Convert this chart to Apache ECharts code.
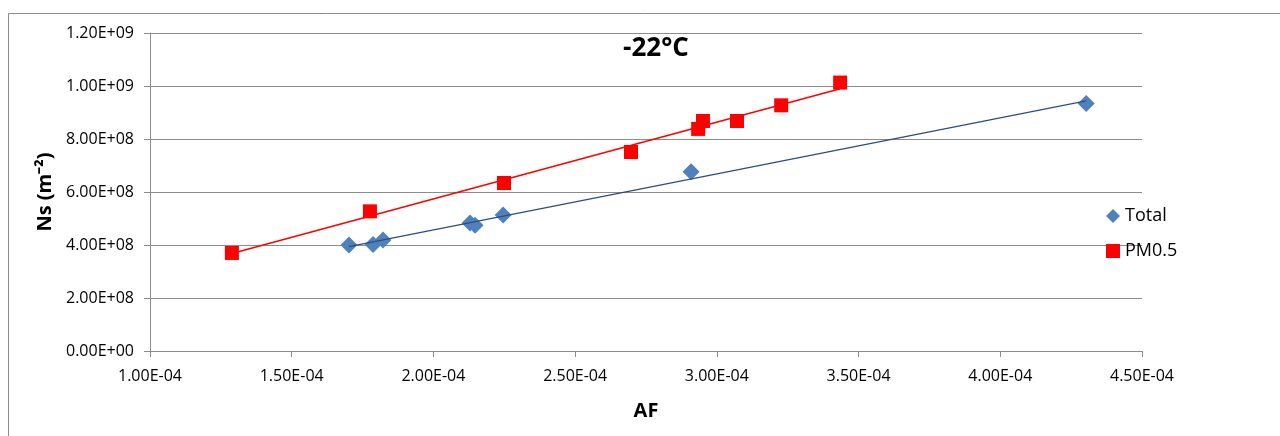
<!DOCTYPE html>
<html>
<head>
<meta charset="utf-8">
<script src="https://cdn.jsdelivr.net/npm/echarts@6/dist/echarts.min.js"></script>
<style>
  html, body { margin: 0; padding: 0; background: #fff; }
  #main { width: 1280px; height: 436px; }
</style>
</head>
<body>
<div id="main"></div>
<script>
// values
var totalAF = [1.702e-4, 1.787e-4, 1.822e-4, 2.129e-4, 2.147e-4, 2.246e-4, 2.909e-4, 4.303e-4];
var totalNs = [4.00e8, 4.02e8, 4.19e8, 4.83e8, 4.75e8, 5.13e8, 6.76e8, 9.34e8];
var pmAF = [1.289e-4, 1.776e-4, 2.249e-4, 2.697e-4, 2.934e-4, 2.951e-4, 3.071e-4, 3.227e-4, 3.435e-4];
var pmNs = [3.70e8, 5.27e8, 6.34e8, 7.51e8, 8.38e8, 8.68e8, 8.68e8, 9.27e8, 1.013e9];
var seriesNames = ['Total', 'PM0.5'];
var chartTitle = '-22°C';

function pairs(xs, ys) {
  return xs.map(function (x, i) { return [x, ys[i]]; });
}

// linear trendline (least squares) across the data range
function trend(xs, ys) {
  var n = xs.length, sx = 0, sy = 0, sxx = 0, sxy = 0;
  for (var i = 0; i < n; i++) {
    sx += xs[i]; sy += ys[i]; sxx += xs[i] * xs[i]; sxy += xs[i] * ys[i];
  }
  var b = (n * sxy - sx * sy) / (n * sxx - sx * sx);
  var a = (sy - b * sx) / n;
  var lo = Math.min.apply(null, xs), hi = Math.max.apply(null, xs);
  return [[lo, a + b * lo], [hi, a + b * hi]];
}

function sci(v) {
  var parts = Number(v).toExponential(2).split('e');
  var e = parts[1];
  var sign = e.charAt(0) === '-' ? '-' : '+';
  var digits = e.replace(/[+-]/, '');
  if (digits.length < 2) digits = '0' + digits;
  return parts[0] + 'E' + sign + digits;
}

var font = 'Open Sans';
var chart = echarts.init(document.getElementById('main'), null, { renderer: 'canvas' });

chart.setOption({
  animation: false,
  backgroundColor: '#fff',
  title: {
    text: chartTitle,
    left: 651, top: 31, textAlign: 'center',
    textStyle: { fontFamily: font, fontSize: 26, fontWeight: 'bold', color: '#000' }
  },
  legend: {
    orient: 'vertical',
    left: 1101, top: 202,
    itemGap: 17, itemWidth: 14, itemHeight: 14,
    data: [
      { name: seriesNames[0], icon: 'diamond' },
      { name: seriesNames[1], icon: 'rect' }
    ],
    textStyle: { fontFamily: font, fontSize: 18, color: '#000' }
  },
  grid: { left: 150, right: 138, top: 33, bottom: 85 },
  xAxis: {
    type: 'value',
    min: 1.0e-4, max: 4.5e-4, interval: 0.5e-4,
    name: 'AF', nameLocation: 'middle', nameGap: 50,
    nameTextStyle: { fontFamily: font, fontSize: 20, fontWeight: 'bold', color: '#000' },
    axisLine: { show: true, lineStyle: { color: '#8c8c8c', width: 1 } },
    axisTick: { show: true, inside: false, length: 6, lineStyle: { color: '#8c8c8c' } },
    axisLabel: { formatter: sci, margin: 17, fontFamily: font, fontSize: 16, color: '#000' },
    splitLine: { show: false }
  },
  yAxis: {
    type: 'value',
    min: 0, max: 1.2e9, interval: 2e8,
    name: 'Ns (m⁻²)', nameLocation: 'middle', nameGap: 93, nameRotate: 90,
    nameTextStyle: { fontFamily: font, fontSize: 20, fontWeight: 'bold', color: '#000' },
    axisLine: { show: true, lineStyle: { color: '#8c8c8c', width: 1 } },
    axisTick: { show: true, inside: false, length: 6, lineStyle: { color: '#8c8c8c' } },
    axisLabel: { formatter: sci, margin: 16, fontFamily: font, fontSize: 16, color: '#000' },
    splitLine: { show: true, lineStyle: { color: '#8c8c8c', width: 1 } }
  },
  graphic: [{
    type: 'polyline',
    shape: { points: [[8.5, 440], [8.5, 13.5], [1290, 13.5]] },
    style: { stroke: '#8c8c8c', lineWidth: 1, fill: null },
    silent: true
  }],
  series: [
    {
      name: seriesNames[0] + ' trend', type: 'line',
      data: trend(totalAF, totalNs), symbol: 'none',
      lineStyle: { color: '#2c4d80', width: 1.3 }, z: 3, silent: true
    },
    {
      name: seriesNames[1] + ' trend', type: 'line',
      data: trend(pmAF, pmNs), symbol: 'none',
      lineStyle: { color: '#ff0000', width: 1.5 }, z: 3, silent: true
    },
    {
      name: seriesNames[0], type: 'scatter',
      data: pairs(totalAF, totalNs),
      symbol: 'diamond', symbolSize: [17, 17],
      itemStyle: { color: '#4f81bd', opacity: 1 }, z: 2
    },
    {
      name: seriesNames[1], type: 'scatter',
      data: pairs(pmAF, pmNs),
      symbol: 'rect', symbolSize: 14,
      itemStyle: { color: '#ff0000', opacity: 1 }, z: 2
    }
  ]
});
</script>
</body>
</html>
